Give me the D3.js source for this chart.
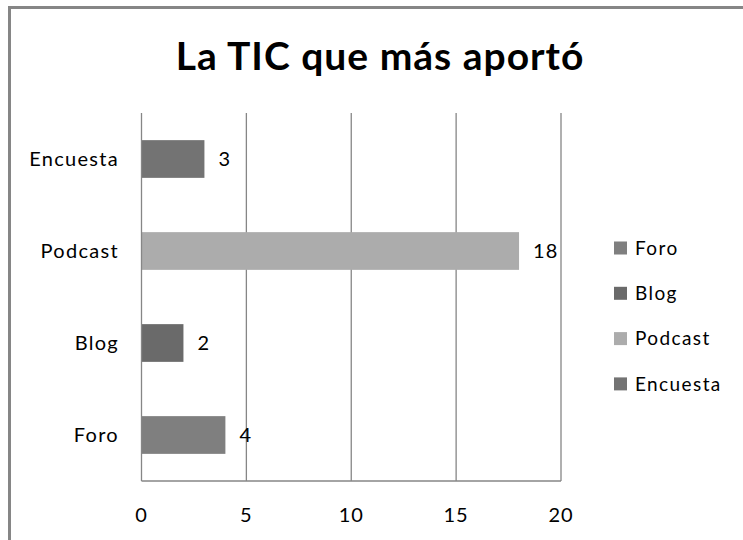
<!DOCTYPE html>
<html><head><meta charset="utf-8">
<script src="https://cdn.jsdelivr.net/npm/d3@7"></script>
<style>
html,body{margin:0;padding:0;background:#fff;}
svg{display:block;}
text{font-family:Lato,"Open Sans",sans-serif;fill:#000;}
</style></head>
<body>
<svg id="chart" width="743" height="540"></svg>
<script>
const categories = ["Foro", "Blog", "Podcast", "Encuesta"];
const values = [4, 2, 18, 3];
const colors = ["#7f7f7f", "#6a6a6a", "#acacac", "#737373"];
const xTicks = [0, 5, 10, 15, 20];
const title = "La TIC que más aportó";

const svg = d3.select("#chart");
const W = 743, H = 540;

// outer border
svg.append("rect").attr("x", 9.5).attr("y", 7.5).attr("width", W + 20).attr("height", H + 20)
  .attr("fill", "#fff").attr("stroke", "#868686").attr("stroke-width", 3);

const plot = {left: 141.5, right: 561, top: 113, bottom: 481};

const x = d3.scaleLinear().domain([0, 20]).range([plot.left, plot.right]);
const y = d3.scaleBand().domain(categories.slice().reverse()).range([plot.top, plot.bottom]).paddingInner(0.59).paddingOuter(0.295);

// title
svg.append("text").attr("x", 380).attr("y", 70).attr("text-anchor", "middle")
  .style("font-size", "39px").style("font-weight", "bold").style("letter-spacing", "1px").text(title);

// gridlines
svg.append("g").selectAll("line").data(xTicks.slice(1)).join("line")
  .attr("x1", d => x(d)).attr("x2", d => x(d))
  .attr("y1", plot.top).attr("y2", plot.bottom)
  .attr("stroke", "#868686").attr("stroke-width", 1.3);

// bars
svg.append("g").selectAll("rect").data(categories).join("rect")
  .attr("x", x(0)).attr("y", d => y(d))
  .attr("width", (d, i) => x(values[i]) - x(0))
  .attr("height", y.bandwidth())
  .attr("fill", (d, i) => colors[i]);

// axes lines (left and bottom)
svg.append("line").attr("x1", plot.left).attr("x2", plot.left).attr("y1", plot.top).attr("y2", plot.bottom)
  .attr("stroke", "#868686").attr("stroke-width", 1.3);
svg.append("line").attr("x1", plot.left).attr("x2", plot.right).attr("y1", plot.bottom).attr("y2", plot.bottom)
  .attr("stroke", "#868686").attr("stroke-width", 1.3);

// value labels
svg.append("g").selectAll("text").data(categories).join("text")
  .attr("x", (d, i) => x(values[i]) + 14)
  .attr("y", d => y(d) + y.bandwidth() / 2)
  .attr("dy", "0.36em")
  .style("font-size", "20px").style("letter-spacing", "1px")
  .text((d, i) => values[i]);

// category labels
svg.append("g").selectAll("text").data(categories).join("text")
  .attr("x", 119)
  .attr("y", d => y(d) + y.bandwidth() / 2)
  .attr("dy", "0.36em")
  .attr("text-anchor", "end")
  .style("font-size", "20px").style("letter-spacing", "1.3px")
  .text(d => d);

// x tick labels
svg.append("g").selectAll("text").data(xTicks).join("text")
  .attr("x", d => x(d))
  .attr("y", 515).attr("dy", "0.36em")
  .attr("text-anchor", "middle")
  .style("font-size", "20px").style("letter-spacing", "1px")
  .text(d => d);

// legend
const leg = svg.append("g").selectAll("g").data(categories).join("g")
  .attr("transform", (d, i) => `translate(614, ${248 + i * 45.3})`);
leg.append("rect").attr("x", 0).attr("y", -6.5).attr("width", 13).attr("height", 13)
  .attr("fill", (d, i) => colors[i]);
leg.append("text").attr("x", 21).attr("y", 0).attr("dy", "0.36em")
  .style("font-size", "19px").style("letter-spacing", "1.4px")
  .text(d => d);
</script>
</body></html>
